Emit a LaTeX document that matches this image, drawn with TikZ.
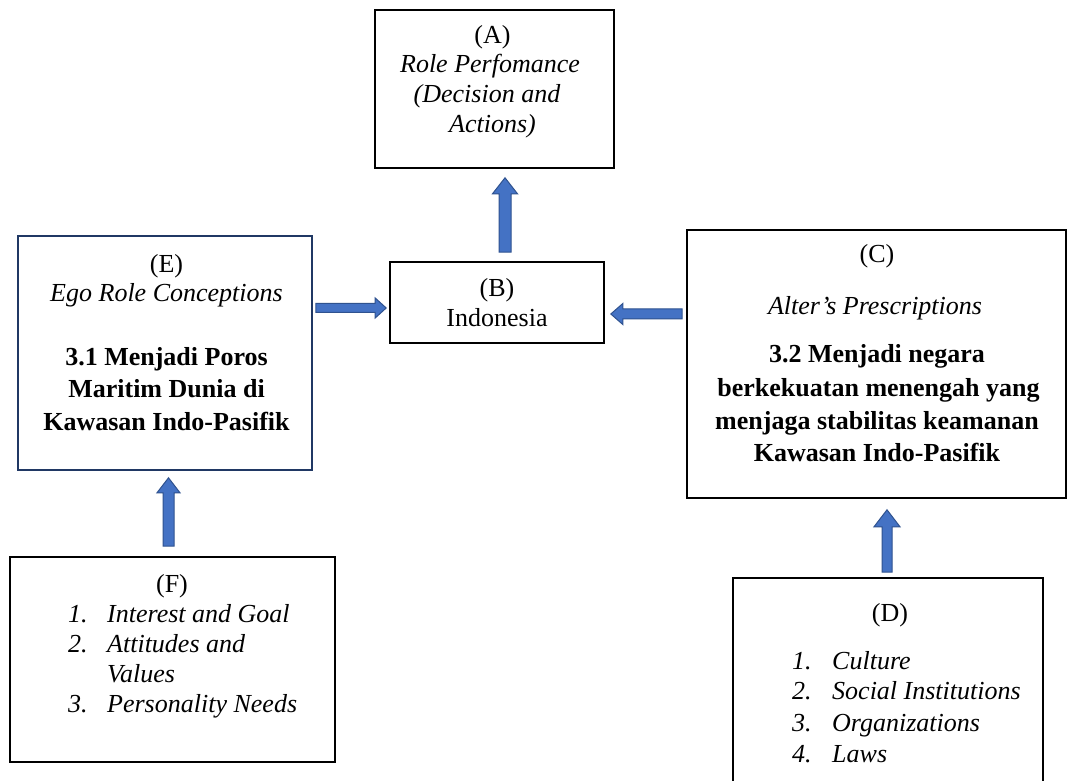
\documentclass[tikz,border=0pt]{standalone}
\usepackage{fontspec}
\setmainfont{Liberation Serif}
\usetikzlibrary{calc}
\definecolor{arrfill}{HTML}{4472C4}
\definecolor{arrline}{HTML}{2F528F}
\definecolor{navybox}{HTML}{203864}
\tikzset{
  box/.style={draw=black, line width=1.6pt, inner sep=0pt, rectangle},
  navyframe/.style={draw=navybox, line width=1.6pt, inner sep=0pt, rectangle},
  barrow/.style={draw=arrline, fill=arrfill, line width=1pt, line join=miter},
  txt/.style={anchor=base, inner sep=0pt, font=\fontsize{26}{30}\selectfont},
  itxt/.style={txt, font=\fontsize{26}{30}\selectfont\itshape},
  btxt/.style={txt, font=\fontsize{26}{30}\selectfont\bfseries},
  ltxt/.style={anchor=base west, inner sep=0pt, font=\fontsize{26}{30}\selectfont\itshape}
}
% #1 from, #2 to, #3 half shaft, #4 half head, #5 head length
\newcommand{\blockarrow}[5]{%
  \coordinate (ba-h) at ($(#2)!#5!(#1)$);
  \draw[barrow] ($(#1)!#3!90:(#2)$) -- ($(ba-h)!#3!-90:(#1)$) -- ($(ba-h)!#4!-90:(#1)$)
    -- (#2) -- ($(ba-h)!#4!90:(#1)$) -- ($(ba-h)!#3!90:(#1)$) -- ($(#1)!#3!-90:(#2)$) -- cycle;}
\begin{document}
\begin{tikzpicture}[x=1pt,y=1pt]
\useasboundingbox (0,0) rectangle (1068,781);
\clip (0,0) rectangle (1068,781);
\fill[white] (0,0) rectangle (1068,781);

% boxes
\node[box, minimum width=239pt, minimum height=158pt] (A) at (494.5,692) {};
\node[box, minimum width=214pt, minimum height=81pt] (B) at (497,478.5) {};
\node[navyframe, minimum width=294pt, minimum height=234pt] (E) at (165,428) {};
\node[box, minimum width=379pt, minimum height=268pt] (C) at (876.5,417) {};
\node[box, minimum width=325pt, minimum height=205pt] (F) at (172.5,121.5) {};
\node[box, minimum width=310pt, minimum height=243pt] (D) at (888,81.5) {};

% texts A
\node[txt] (a1) at (492.5,737) {(A)};
\node[itxt] (a2) at (490,708) {Role Perfomance};
\node[itxt] (a3) at (487,678) {(Decision and};
\node[itxt] (a4) at (492.5,648) {Actions)};
% texts B
\node[txt] (b1) at (497,484) {(B)};
\node[txt] (b2) at (497,454) {Indonesia};
% texts E
\node[txt] (e1) at (166.5,508) {(E)};
\node[itxt] (e2) at (166.5,479) {Ego Role Conceptions};
\node[btxt] (e3) at (166.5,415) {3.1 Menjadi Poros};
\node[btxt] (e4) at (166.5,383) {Maritim Dunia di};
\node[btxt] (e5) at (166.5,350) {Kawasan Indo-Pasifik};
% texts C
\node[txt] (c1) at (877,518) {(C)};
\node[itxt] (c2) at (875,466) {Alter’s Prescriptions};
\node[btxt] (c3) at (877,418) {3.2 Menjadi negara};
\node[btxt] (c4) at (878.5,384) {berkekuatan menengah yang};
\node[btxt] (c5) at (877,351) {menjaga stabilitas keamanan};
\node[btxt] (c6) at (877,319) {Kawasan Indo-Pasifik};
% texts F
\node[txt] (f0) at (172,188) {(F)};
\node[ltxt] (fn1) at (68,158) {1.};
\node[ltxt] (ft1) at (107,158) {Interest and Goal};
\node[ltxt] (fn2) at (68,128) {2.};
\node[ltxt] (ft2) at (107,128) {Attitudes and};
\node[ltxt] (ft2b) at (107,98) {Values};
\node[ltxt] (fn3) at (68,68) {3.};
\node[ltxt] (ft3) at (107,68) {Personality Needs};
% texts D
\node[txt] (d0) at (890,159) {(D)};
\node[ltxt] (dn1) at (792,111) {1.};
\node[ltxt] (dt1) at (832,111) {Culture};
\node[ltxt] (dn2) at (792,81) {2.};
\node[ltxt] (dt2) at (832,81) {Social Institutions};
\node[ltxt] (dn3) at (792,49) {3.};
\node[ltxt] (dt3) at (832,49) {Organizations};
\node[ltxt] (dn4) at (792,18) {4.};
\node[ltxt] (dt4) at (832,18) {Laws};

% arrow end points
\coordinate (ba0) at ($(B.north)+(8,9)$);
\coordinate (ba1) at ($(A.south)+(10.5,-9)$);
\coordinate (eb0) at ($(E.east |- 0,473)+(3,0)$);
\coordinate (eb1) at ($(B.west |- 0,473)+(-3,0)$);
\coordinate (cb0) at ($(C.west |- 0,467)+(-4,0)$);
\coordinate (cb1) at ($(B.east |- 0,467)+(6,0)$);
\coordinate (fe0) at ($(F.north)+(-4,10)$);
\coordinate (fe1) at ($(E.south)+(3.5,-7)$);
\coordinate (dc0) at ($(D.north)+(-1,5)$);
\coordinate (dc1) at ($(C.south)+(10.5,-11)$);

\blockarrow{ba0}{ba1}{6pt}{12.5pt}{16pt}
\blockarrow{eb0}{eb1}{4.5pt}{10pt}{11pt}
\blockarrow{cb0}{cb1}{5pt}{10.5pt}{12pt}
\blockarrow{fe0}{fe1}{5.5pt}{11.5pt}{15pt}
\blockarrow{dc0}{dc1}{5pt}{13pt}{17pt}
\end{tikzpicture}
\end{document}
